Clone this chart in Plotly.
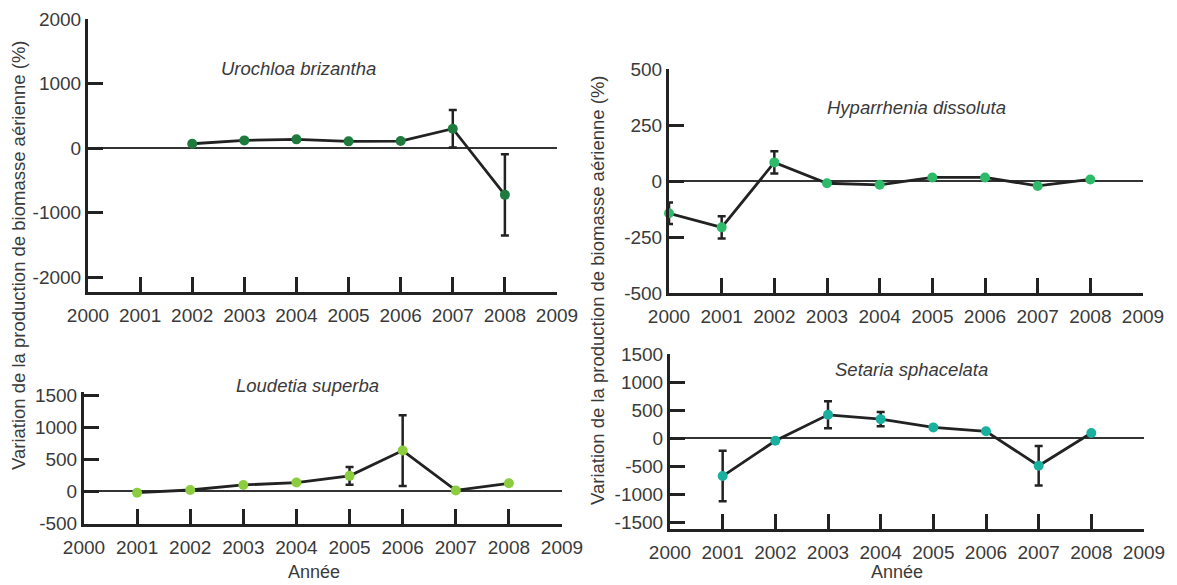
import plotly.graph_objects as go

# --- data: variation of above-ground biomass production (%) per year ---
uro_years = [2002, 2003, 2004, 2005, 2006, 2007, 2008]
uro_vals = [67, 119, 135, 104, 109, 300, -725]
uro_err_years = [2007, 2008]
uro_err_vals = [300, -725]
uro_err = [290, 630]

hyp_years = [2000, 2001, 2002, 2003, 2004, 2005, 2006, 2007, 2008]
hyp_vals = [-144, -207, 83, -10, -17, 16, 16, -22, 7]
hyp_err_years = [2000, 2001, 2002]
hyp_err_vals = [-144, -207, 83]
hyp_err = [48, 50, 50]

lou_years = [2001, 2002, 2003, 2004, 2005, 2006, 2007, 2008]
lou_vals = [-26, 16, 95, 132, 237, 632, 10, 121]
lou_err_years = [2005, 2006]
lou_err_vals = [237, 632]
lou_err = [140, 552]

set_years = [2001, 2002, 2003, 2004, 2005, 2006, 2007, 2008]
set_vals = [-672, -45, 418, 341, 194, 124, -488, 94]
set_err_years = [2001, 2003, 2004, 2007]
set_err_vals = [-672, 418, 341, -488]
set_err = [450, 240, 125, 352]

year_ticks = list(range(2000, 2010))
species = ["Urochloa brizantha", "Hyparrhenia dissoluta", "Loudetia superba", "Setaria sphacelata"]
y_label = "Variation de la production de biomasse aérienne (%)"
x_label = "Année"

W, H = 1177, 585
FONT = "Liberation Sans, Arial, sans-serif"
TXT = "#3a3a3a"


def fx(px):
    return px / W


def fy(px):
    return 1 - px / H


# panel geometry in pixels: (x0, x1, ytop, ybottom), y range, y ticks, marker colour
panels = [
    dict(x=(88, 557), y=(19, 292), yr=[-2230, 2000], yt=[-2000, -1000, 0, 1000, 2000],
         col="#1f7a3e", d=(uro_years, uro_vals, uro_err_years, uro_err_vals, uro_err)),
    dict(x=(669, 1143), y=(69, 293), yr=[-500, 500], yt=[-500, -250, 0, 250, 500],
         col="#2dbb6a", d=(hyp_years, hyp_vals, hyp_err_years, hyp_err_vals, hyp_err)),
    dict(x=(84, 562), y=(392, 524), yr=[-515, 1547], yt=[-500, 0, 500, 1000, 1500],
         col="#8ccc3f", d=(lou_years, lou_vals, lou_err_years, lou_err_vals, lou_err)),
    dict(x=(670, 1144), y=(354, 529), yr=[-1614, 1500], yt=[-1500, -1000, -500, 0, 500, 1000, 1500],
         col="#1ab0a0", d=(set_years, set_vals, set_err_years, set_err_vals, set_err)),
]

fig = go.Figure()
layout = {}

for i, p in enumerate(panels, start=1):
    xa = "x" if i == 1 else f"x{i}"
    ya = "y" if i == 1 else f"y{i}"
    yrs, vals, eyrs, evals, errs = p["d"]

    # error bars underneath the series
    fig.add_trace(go.Scatter(
        x=eyrs, y=evals, mode="markers", xaxis=xa, yaxis=ya,
        marker=dict(size=1, opacity=0),
        error_y=dict(type="data", array=errs, visible=True, color="#222222",
                     thickness=2.5, width=4),
        cliponaxis=False, showlegend=False, hoverinfo="skip"))
    fig.add_trace(go.Scatter(
        x=yrs, y=vals, mode="lines+markers", xaxis=xa, yaxis=ya,
        line=dict(color="#222222", width=2.8),
        marker=dict(size=10, color=p["col"]),
        cliponaxis=False, showlegend=False))

    xkey = "xaxis" if i == 1 else f"xaxis{i}"
    ykey = "yaxis" if i == 1 else f"yaxis{i}"
    layout[xkey] = dict(
        domain=[fx(p["x"][0]), fx(p["x"][1])], anchor=ya, range=[2000, 2009],
        tickvals=year_ticks, ticktext=[str(v) for v in year_ticks],
        ticks="inside", ticklen=15, tickwidth=3, tickcolor="#222222",
        showline=True, linewidth=3, linecolor="#222222", showgrid=False,
        zeroline=False, ticklabelstandoff=4, automargin=False,
        tickfont=dict(family=FONT, size=19, color=TXT))
    layout[ykey] = dict(
        domain=[fy(p["y"][1]), fy(p["y"][0])], anchor=xa, range=p["yr"],
        tickvals=p["yt"], ticktext=[str(v) for v in p["yt"]],
        ticks="inside", ticklen=15, tickwidth=3, tickcolor="#222222",
        showline=True, linewidth=3, linecolor="#222222", showgrid=False,
        zeroline=True, zerolinecolor="#333333", zerolinewidth=2, automargin=False,
        tickfont=dict(family=FONT, size=19, color=TXT))

annotations = []
# species names inside each panel
for name, (cx, cy) in zip(species, [(298, 68), (916, 107), (308, 385), (911, 369)]):
    annotations.append(dict(text=f"<i>{name}</i>", x=fx(cx), y=fy(cy), xref="paper", yref="paper",
                            showarrow=False, xanchor="center", yanchor="middle",
                            font=dict(family=FONT, size=18.5, color=TXT)))
# shared y titles
for cx, cy in [(18, 255), (597, 290)]:
    annotations.append(dict(text=y_label, x=fx(cx), y=fy(cy), xref="paper", yref="paper",
                            showarrow=False, textangle=-90, xanchor="center", yanchor="middle",
                            font=dict(family=FONT, size=18.5, color=TXT)))
# x titles
for cx in [314, 897]:
    annotations.append(dict(text=x_label, x=fx(cx), y=fy(584), xref="paper", yref="paper",
                            showarrow=False, xanchor="center", yanchor="bottom",
                            font=dict(family=FONT, size=18, color=TXT)))

fig.update_layout(
    width=W, height=H, margin=dict(l=0, r=0, t=0, b=0, autoexpand=False),
    paper_bgcolor="white", plot_bgcolor="white",
    annotations=annotations, **layout)

fig.write_html("out.html")
